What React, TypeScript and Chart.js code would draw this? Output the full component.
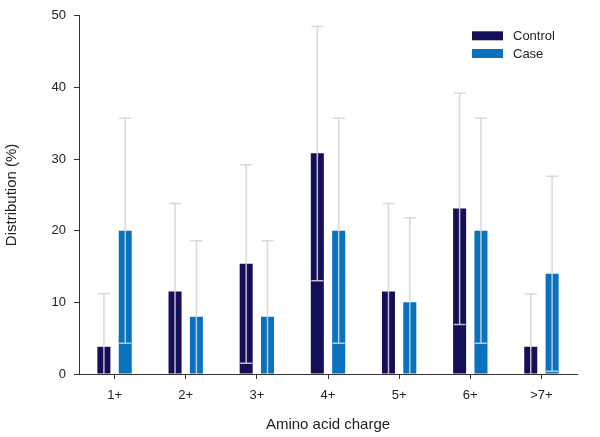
import React, { useEffect, useRef } from "react";
import { Chart, registerables } from "chart.js";

Chart.register(...registerables);

const categories = ["1+", "2+", "3+", "4+", "5+", "6+", ">7+"];
const controlValues = [3.8, 11.5, 15.4, 30.8, 11.5, 23.1, 3.8];
const controlUpper = [11.2, 23.8, 29.2, 48.5, 23.8, 39.2, 11.2];
const controlLower = [-3.6, -0.8, 1.5, 13.0, -0.8, 6.9, -3.6];
const caseValues = [20, 8, 8, 20, 10, 20, 14];
const caseUpper = [35.7, 18.6, 18.6, 35.7, 21.8, 35.7, 27.6];
const caseLower = [4.3, -2.6, -2.6, 4.3, -1.8, 4.3, 0.4];
const yTicks = [0, 10, 20, 30, 40, 50];

const FONT = "'Liberation Sans', Arial, sans-serif";
const CONTROL_COLOR = "#150f58";
const CASE_COLOR = "#0872be";

const errorBarPlugin = {
  id: "errorBars",
  afterDatasetsDraw(chart: any) {
    const { ctx, chartArea } = chart;
    const yScale = chart.scales.y;
    chart.data.datasets.forEach((ds: any, di: number) => {
      const meta = chart.getDatasetMeta(di);
      meta.data.forEach((bar: any, i: number) => {
        const hi = ds.errUpper[i];
        const lo = ds.errLower[i];
        const x = bar.x;
        const yHi = yScale.getPixelForValue(hi);
        const yLo = yScale.getPixelForValue(lo);
        ctx.save();
        ctx.beginPath();
        ctx.rect(chartArea.left, chartArea.top - 20, chartArea.right - chartArea.left, chartArea.bottom - chartArea.top + 20);
        ctx.clip();
        ctx.strokeStyle = "rgba(212,212,216,0.88)";
        ctx.lineWidth = 1.5;
        ctx.beginPath();
        ctx.moveTo(x, Math.min(yLo, chartArea.bottom));
        ctx.lineTo(x, yHi);
        ctx.stroke();
        const capHalf = 6;
        ctx.beginPath();
        ctx.moveTo(x - capHalf, yHi);
        ctx.lineTo(x + capHalf, yHi);
        if (yLo <= chartArea.bottom - 1) {
          ctx.moveTo(x - capHalf, yLo);
          ctx.lineTo(x + capHalf, yLo);
        }
        ctx.stroke();
        ctx.restore();
      });
    });
  },
};

const legendPlugin = {
  id: "customLegend",
  afterDraw(chart: any) {
    const { ctx, chartArea } = chart;
    const boxX = chartArea.right - 105;
    const startY = chartArea.top + 15.5;
    ctx.save();
    chart.data.datasets.forEach((ds: any, i: number) => {
      const y = startY + i * 17.7;
      ctx.fillStyle = ds.backgroundColor;
      ctx.fillRect(boxX, y, 31, 9);
      ctx.fillStyle = "#222";
      ctx.font = `13px ${FONT}`;
      ctx.textBaseline = "middle";
      ctx.textAlign = "left";
      ctx.fillText(ds.label, boxX + 41, y + 5);
    });
    ctx.restore();
  },
};

export default function App() {
  const ref = useRef<HTMLCanvasElement>(null);
  useEffect(() => {
    if (!ref.current) return;
    const chart = new Chart(ref.current, {
      type: "bar",
      data: {
        labels: categories,
        datasets: [
          {
            label: "Control",
            data: controlValues,
            backgroundColor: CONTROL_COLOR,
            errUpper: controlUpper,
            errLower: controlLower,
            categoryPercentage: 0.6,
            barPercentage: 0.61,
          } as any,
          {
            label: "Case",
            data: caseValues,
            backgroundColor: CASE_COLOR,
            errUpper: caseUpper,
            errLower: caseLower,
            categoryPercentage: 0.6,
            barPercentage: 0.61,
          } as any,
        ],
      },
      options: {
        animation: false,
        responsive: true,
        maintainAspectRatio: false,
        layout: { padding: { top: 15.5, right: 23, left: 0, bottom: 0 } },
        plugins: {
          legend: { display: false },
          tooltip: { enabled: false },
        },
        scales: {
          x: {
            offset: true,
            grid: {
              display: true,
              offset: false,
              drawOnChartArea: false,
              drawTicks: true,
              tickLength: 5,
              color: "#333",
              lineWidth: 1,
            },
            border: { display: true, color: "#333", width: 1 },
            ticks: {
              color: "#222",
              font: { family: FONT, size: 13 },
              padding: 9,
              maxRotation: 0,
            },
            title: {
              display: true,
              text: "Amino acid charge",
              color: "#222",
              font: { family: FONT, size: 15 },
              padding: { top: 0, bottom: 3 },
            },
            afterFit(scale: any) {
              scale.height = 63;
            },
          },
          y: {
            min: 0,
            max: 50,
            afterBuildTicks(scale: any) {
              scale.ticks = yTicks.map((v) => ({ value: v }));
            },
            grid: {
              display: true,
              drawOnChartArea: false,
              drawTicks: true,
              tickLength: 5,
              color: "#333",
              lineWidth: 1,
            },
            border: { display: true, color: "#333", width: 1 },
            ticks: {
              color: "#222",
              font: { family: FONT, size: 13 },
              padding: 8,
            },
            title: {
              display: true,
              text: "Distribution (%)",
              color: "#222",
              font: { family: FONT, size: 15 },
              padding: { top: 3, bottom: 3 },
            },
            afterFit(scale: any) {
              scale.width = 79;
            },
          },
        },
      },
      plugins: [errorBarPlugin, legendPlugin],
    } as any);
    return () => chart.destroy();
  }, []);
  return (
    <div style={{ position: "absolute", left: 0, top: 0, width: 600, height: 437, background: "#fff" }}>
      <canvas ref={ref} />
    </div>
  );
}
